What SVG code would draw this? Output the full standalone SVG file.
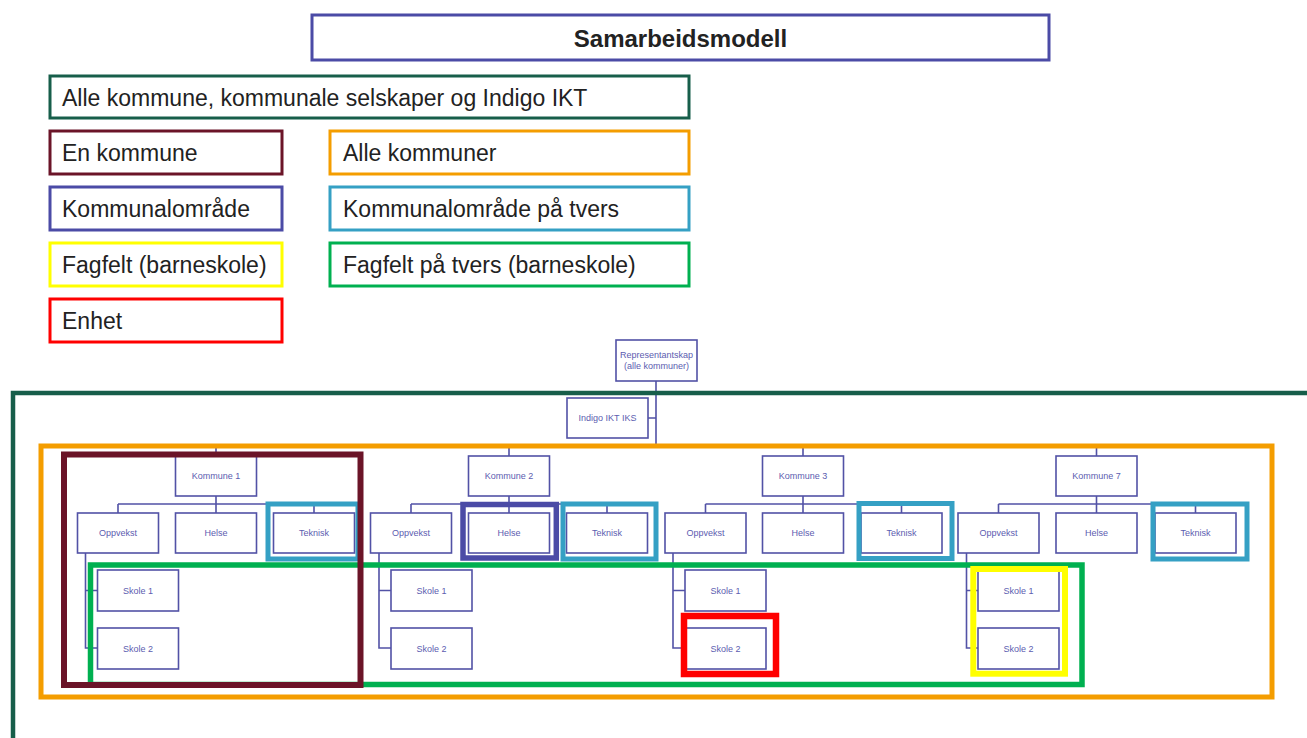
<svg xmlns="http://www.w3.org/2000/svg" width="1307" height="738" viewBox="0 0 1307 738">
<style>
.lg{fill:#fff;stroke-width:3}
.lt{font-family:"Liberation Sans",Arial,sans-serif;font-size:23px;fill:#222}
.nb{fill:#fff;stroke:#5252a6;stroke-width:1.6}
.nt{font-family:"Liberation Sans",Arial,sans-serif;font-size:9px;fill:#5c5cb0;text-anchor:middle}
.cn{fill:none;stroke:#5252a6;stroke-width:1.6}
.fr{fill:none}
</style>
<rect width="1307" height="738" fill="#fff"/>
<g id="title"><rect class="lg" x="312" y="15" width="737" height="45" stroke="#4b4ba6"/><text x="680.5" y="46.5" text-anchor="middle" font-family="Liberation Sans,Arial,sans-serif" font-size="24" font-weight="bold" fill="#222">Samarbeidsmodell</text></g>
<g id="legend">
<g id="lg-alle"><rect class="lg" x="50" y="76" width="639" height="42" stroke="#175e4a"/><text class="lt" x="62" y="106">Alle kommune, kommunale selskaper og Indigo IKT</text></g>
<g id="lg-en"><rect class="lg" x="50" y="131" width="232" height="43" stroke="#6b1428"/><text class="lt" x="62" y="161">En kommune</text></g>
<g id="lg-allek"><rect class="lg" x="330" y="131" width="359" height="43" stroke="#f49d00"/><text class="lt" x="343" y="161">Alle kommuner</text></g>
<g id="lg-ko"><rect class="lg" x="50" y="187" width="232" height="43" stroke="#4b4ba6"/><text class="lt" x="62" y="217">Kommunalområde</text></g>
<g id="lg-kot"><rect class="lg" x="330" y="187" width="359" height="43" stroke="#35a0c4"/><text class="lt" x="343" y="217">Kommunalområde på tvers</text></g>
<g id="lg-ff"><rect class="lg" x="50" y="243" width="232" height="43" stroke="#ffff00"/><text class="lt" x="62" y="273">Fagfelt (barneskole)</text></g>
<g id="lg-fft"><rect class="lg" x="330" y="243" width="359" height="43" stroke="#00b050"/><text class="lt" x="343" y="273">Fagfelt på tvers (barneskole)</text></g>
<g id="lg-enhet"><rect class="lg" x="50" y="299" width="232" height="43" stroke="#ff0000"/><text class="lt" x="62" y="329">Enhet</text></g>
</g>
<g id="connectors">
<path class="cn" d="M656 381V447M648 418H656M216 447H1096.5M216 447V456M509 447V456M803 447V456M1096.5 447V456"/>
<path class="cn" d="M216 496V513M118 504H314M118 504V513M314 504V513"/>
<path class="cn" d="M509 496V513M411 504H607M411 504V513M607 504V513"/>
<path class="cn" d="M803 496V513M705.5 504H901.5M705.5 504V513M901.5 504V513"/>
<path class="cn" d="M1096.5 496V513M998.5 504H1195.5M998.5 504V513M1195.5 504V513"/>
<path class="cn" d="M85.5 553V648H97.5M85.5 590.5H97.5"/>
<path class="cn" d="M379 553V648H391M379 590.5H391"/>
<path class="cn" d="M673 553V648H685M673 590.5H685"/>
<path class="cn" d="M966.5 553V648H978M966.5 590.5H978"/>
</g>
<g id="frame-alle"><path class="fr" d="M1312 393H13V745" stroke="#175e4a" stroke-width="4.5"/></g>
<g id="frame-allekommuner"><rect class="fr" x="41" y="446" width="1231" height="251" stroke="#f49d00" stroke-width="5"/></g>
<g id="n-rep"><rect class="nb" x="616" y="340" width="81" height="41"/><text class="nt" x="656.5" y="358" font-size="8.6">Representantskap</text><text class="nt" x="656.5" y="369" font-size="8.6">(alle kommuner)</text></g>
<g id="n-indigo"><rect class="nb" x="567" y="398" width="81" height="40"/><text class="nt" x="607.5" y="421">Indigo IKT IKS</text></g>
<g id="n-k1"><rect class="nb" x="175.5" y="456" width="81" height="40"/><text class="nt" x="216" y="479">Kommune 1</text></g>
<g id="n-k1-opp"><rect class="nb" x="77.5" y="513" width="81" height="40"/><text class="nt" x="118" y="536">Oppvekst</text></g>
<g id="n-k1-hel"><rect class="nb" x="175.5" y="513" width="81" height="40"/><text class="nt" x="216" y="536">Helse</text></g>
<g id="n-k1-tek"><rect class="nb" x="273.5" y="513" width="81" height="40"/><text class="nt" x="314" y="536">Teknisk</text></g>
<g id="n-k1-s1"><rect class="nb" x="97.5" y="570" width="81" height="41"/><text class="nt" x="138" y="594">Skole 1</text></g>
<g id="n-k1-s2"><rect class="nb" x="97.5" y="628" width="81" height="41"/><text class="nt" x="138" y="651.5">Skole 2</text></g>
<g id="n-k2"><rect class="nb" x="468.5" y="456" width="81" height="40"/><text class="nt" x="509" y="479">Kommune 2</text></g>
<g id="n-k2-opp"><rect class="nb" x="370.5" y="513" width="81" height="40"/><text class="nt" x="411" y="536">Oppvekst</text></g>
<g id="n-k2-hel"><rect class="nb" x="468.5" y="513" width="81" height="40"/><text class="nt" x="509" y="536">Helse</text></g>
<g id="n-k2-tek"><rect class="nb" x="566.5" y="513" width="81" height="40"/><text class="nt" x="607" y="536">Teknisk</text></g>
<g id="n-k2-s1"><rect class="nb" x="391" y="570" width="81" height="41"/><text class="nt" x="431.5" y="594">Skole 1</text></g>
<g id="n-k2-s2"><rect class="nb" x="391" y="628" width="81" height="41"/><text class="nt" x="431.5" y="651.5">Skole 2</text></g>
<g id="n-k3"><rect class="nb" x="762.5" y="456" width="81" height="40"/><text class="nt" x="803" y="479">Kommune 3</text></g>
<g id="n-k3-opp"><rect class="nb" x="665" y="513" width="81" height="40"/><text class="nt" x="705.5" y="536">Oppvekst</text></g>
<g id="n-k3-hel"><rect class="nb" x="762.5" y="513" width="81" height="40"/><text class="nt" x="803" y="536">Helse</text></g>
<g id="n-k3-tek"><rect class="nb" x="861" y="513" width="81" height="40"/><text class="nt" x="901.5" y="536">Teknisk</text></g>
<g id="n-k3-s1"><rect class="nb" x="685" y="570" width="81" height="41"/><text class="nt" x="725.5" y="594">Skole 1</text></g>
<g id="n-k3-s2"><rect class="nb" x="685" y="628" width="81" height="41"/><text class="nt" x="725.5" y="651.5">Skole 2</text></g>
<g id="n-k7"><rect class="nb" x="1056" y="456" width="81" height="40"/><text class="nt" x="1096.5" y="479">Kommune 7</text></g>
<g id="n-k7-opp"><rect class="nb" x="958" y="513" width="81" height="40"/><text class="nt" x="998.5" y="536">Oppvekst</text></g>
<g id="n-k7-hel"><rect class="nb" x="1056" y="513" width="81" height="40"/><text class="nt" x="1096.5" y="536">Helse</text></g>
<g id="n-k7-tek"><rect class="nb" x="1155" y="513" width="81" height="40"/><text class="nt" x="1195.5" y="536">Teknisk</text></g>
<g id="n-k7-s1"><rect class="nb" x="978" y="570" width="81" height="41"/><text class="nt" x="1018.5" y="594">Skole 1</text></g>
<g id="n-k7-s2"><rect class="nb" x="978" y="628" width="81" height="41"/><text class="nt" x="1018.5" y="651.5">Skole 2</text></g>
<g id="frames-teal" fill="none" stroke="#35a0c4" stroke-width="5">
<rect x="268" y="504" width="90" height="55"/>
<rect x="563" y="504" width="93" height="55"/>
<rect x="859" y="503.5" width="93" height="55"/>
<rect x="1153" y="504" width="94" height="55"/>
</g>
<g id="frame-blue"><rect class="fr" x="463" y="504.5" width="93.3" height="53.5" stroke="#4b4ba6" stroke-width="5.5"/></g>
<g id="frame-green"><rect class="fr" x="90.5" y="565" width="991.5" height="119.5" stroke="#00b050" stroke-width="5.5"/></g>
<g id="frame-maroon"><rect class="fr" x="64" y="454.5" width="296.5" height="230.5" stroke="#6b1428" stroke-width="6"/></g>
<g id="frame-red"><rect class="fr" x="684" y="616" width="92" height="58" stroke="#ff0000" stroke-width="6.5"/></g>
<g id="frame-yellow"><rect class="fr" x="973.3" y="569" width="91.7" height="104.7" stroke="#ffff00" stroke-width="6"/></g>
</svg>
